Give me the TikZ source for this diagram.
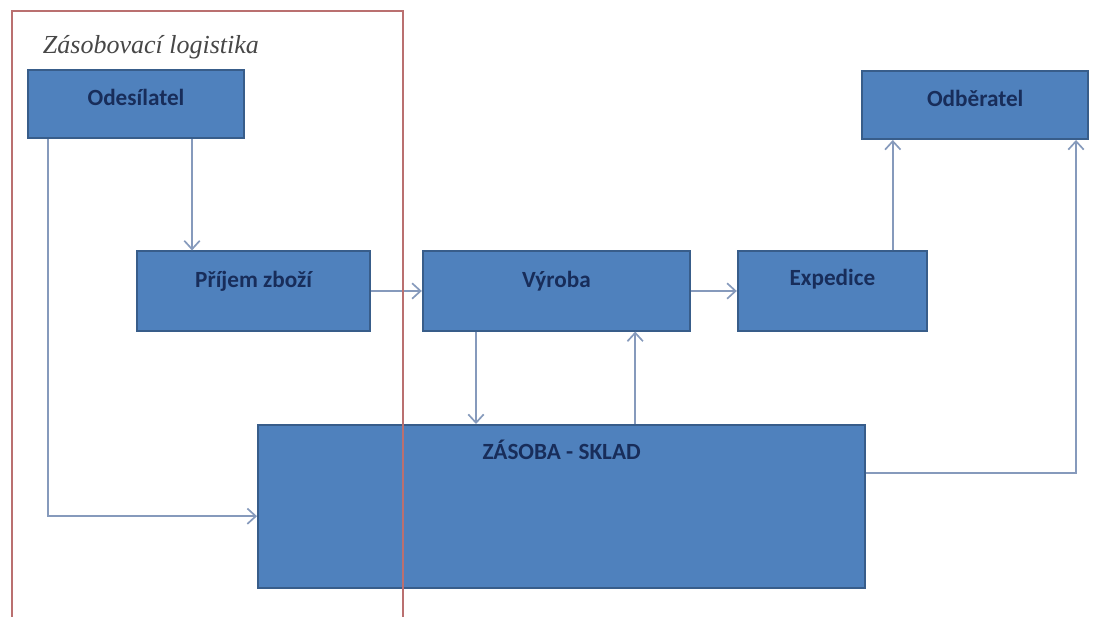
\documentclass[tikz,border=0pt]{standalone}
\usepackage{fontspec}
\setmainfont{Carlito}
\newfontfamily\titlefont{Liberation Serif}
\usetikzlibrary{arrows.meta}

\definecolor{boxfill}{RGB}{79,129,189}
\definecolor{boxline}{RGB}{56,93,138}
\definecolor{boxtext}{RGB}{24,45,90}
\definecolor{flowcol}{RGB}{134,154,188}
\definecolor{framecol}{RGB}{186,112,112}

\tikzset{
  blok/.style={draw=boxline, fill=boxfill, line width=1.4pt, inner sep=0pt},
  blokText/.style={text=boxtext, font=\fontsize{16.5}{18}\selectfont\bfseries},
  tok/.style={draw=flowcol, line width=1.2pt, -{Straight Barb[length=6pt,width=11pt]}}
}

\begin{document}
\begin{tikzpicture}
	\useasboundingbox (0,0) rectangle (27.6,15.425);
	% boxes
	\node[blok, minimum width=5.4cm, minimum height=1.7cm,
	  label={[blokText,anchor=center,yshift=-0.7cm]north:Odesílatel}] (ods) at (3.40,12.825) {};
	\node[blok, minimum width=5.83cm, minimum height=1.98cm,
	  label={[blokText,anchor=center,yshift=-0.78cm]north:Příjem zboží}] (prijem) at (6.34,8.15) {};
	\node[blok, minimum width=6.68cm, minimum height=1.98cm,
	  label={[blokText,anchor=center,yshift=-0.78cm]north:Výroba}] (vyroba) at (13.91,8.15) {};
	\node[blok, minimum width=4.73cm, minimum height=1.98cm,
	  label={[blokText,anchor=center,yshift=-0.72cm]north:Expedice}] (exped) at (20.81,8.15) {};
	\node[blok, minimum width=5.65cm, minimum height=1.7cm,
	  label={[blokText,anchor=center,yshift=-0.7cm]north:Odběratel}] (odber) at (24.38,12.80) {};
	\node[blok, minimum width=15.18cm, minimum height=4.08cm,
	  label={[blokText,anchor=center,yshift=-0.64cm]north:ZÁSOBA - SKLAD}] (sklad) at (14.04,2.76) {};
	% arrows
	\draw[tok] ([xshift=1.4cm]ods.south) -- ([xshift=1.4cm]ods.south |- prijem.north);
	\draw[tok] ([xshift=0.53cm]ods.south west) |- ([yshift=-0.24cm]sklad.west);
	\draw[tok] (prijem.east) -- (vyroba.west);
	\draw[tok] (vyroba.east) -- (exped.west);
	\draw[tok] ([xshift=-2.01cm]vyroba.south) -- ([xshift=-2.01cm]vyroba.south |- sklad.north);
	\draw[tok] ([xshift=1.84cm]sklad.north) -- ([xshift=1.84cm]sklad.north |- vyroba.south);
	\draw[tok] ([xshift=1.51cm]exped.north) -- ([xshift=1.51cm]exped.north |- odber.south);
	\draw[tok] ([yshift=0.84cm]sklad.east) -| ([xshift=2.52cm]odber.south);
	% frame
	\draw[framecol, line width=1.1pt] (0.3,0) -- (0.3,15.15) -- (10.08,15.15) -- (10.08,0);
	\node[anchor=west, text=black!72, font=\titlefont\itshape\fontsize{18.5}{20}\selectfont] (titul) at (0.95,14.25) {Zásobovací logistika};
\end{tikzpicture}
\end{document}
